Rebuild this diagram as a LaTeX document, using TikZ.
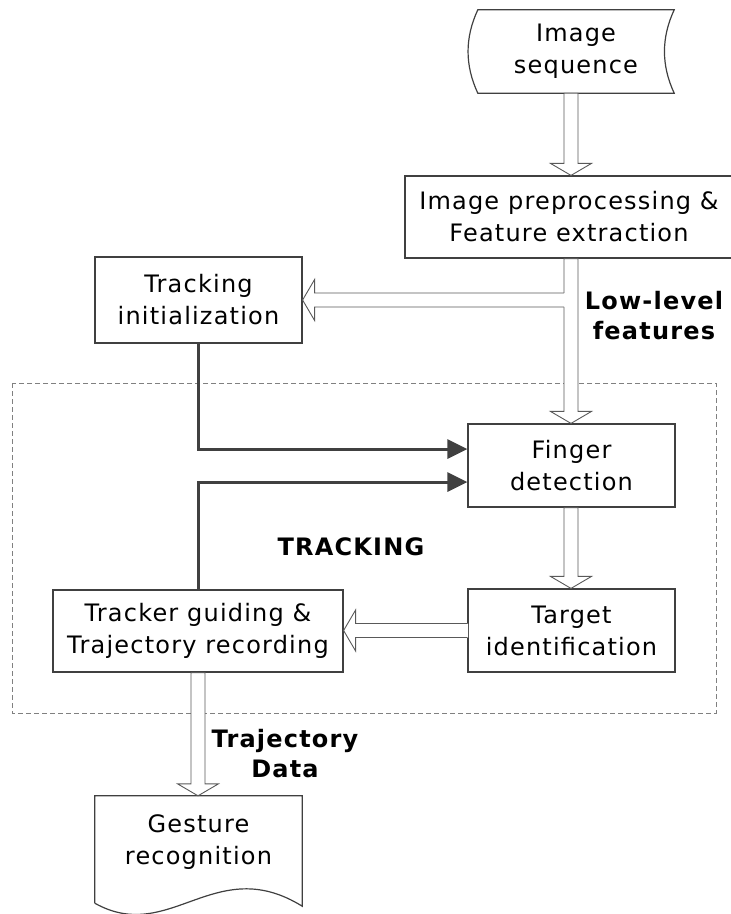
\documentclass[tikz,border=0pt]{standalone}
\usepackage{fontspec}
\setmainfont{DejaVu Sans}[LetterSpace=5]
\usetikzlibrary{arrows.meta,calc}

% hollow block arrow pointing down, from #1 to the tip #2 (same x)
\newcommand\hdown[2]{%
  \draw[hollow] let \p1=(#1), \p2=(#2) in
    (\x1-7pt,\y1) -- (\x1-7pt,\y2+12pt) -- (\x1-20.5pt,\y2+12pt) -- (\x1,\y2)
    -- (\x1+20.5pt,\y2+12pt) -- (\x1+7pt,\y2+12pt) -- (\x1+7pt,\y1) -- cycle;}
% hollow block arrow pointing left, open at its start #1, tip at #2
\newcommand\hleft[2]{%
  \fill[white] let \p1=(#1), \p2=(#2) in
    (\x1+0.8pt,\y1+7pt) -- (\x2+12pt,\y1+7pt) -- (\x2+12pt,\y1+20.5pt) -- (\x2,\y1)
    -- (\x2+12pt,\y1-20.5pt) -- (\x2+12pt,\y1-7pt) -- (\x1+0.8pt,\y1-7pt) -- cycle;
  \draw[hollow,fill=none] let \p1=(#1), \p2=(#2) in
    (\x1,\y1+7pt) -- (\x2+12pt,\y1+7pt) -- (\x2+12pt,\y1+20.5pt) -- (\x2,\y1)
    -- (\x2+12pt,\y1-20.5pt) -- (\x2+12pt,\y1-7pt) -- (\x1,\y1-7pt);}

\begin{document}
\begin{tikzpicture}[x=1pt,y=-1pt,
  every node/.style={font=\fontsize{24}{32}\selectfont, align=center, inner sep=0pt},
  box/.style={draw=black!75, line width=1.2pt},
  hollow/.style={draw=black!65, fill=white, line width=0.9pt, line join=miter},
  dark/.style={draw=black!75, line width=3pt, -{Triangle[length=20pt,width=19pt]}},
  lbl/.style={font=\fontsize{24}{30}\selectfont\bfseries},
  frame/.style={draw=black!50, line width=0.9pt, dash pattern=on 5pt off 3pt}]
\useasboundingbox (0,0) rectangle (731,914);

% tracking stage frame
\draw[frame] (12,383) rectangle (716,713);

% process boxes
\node[box, minimum width=328pt, minimum height=82pt] (pre) at (569,217)
  {Image preprocessing \&\\Feature extraction};
\node[box, minimum width=207pt, minimum height=86pt] (init) at (198.5,300)
  {Tracking\\initialization};
\node[box, minimum width=207pt, minimum height=83pt] (finger) at (571.5,465.5)
  {Finger\\detection};
\node[box, minimum width=207pt, minimum height=83pt] (target) at (571.5,630.5)
  {Target\\identification};
\node[box, minimum width=290pt, minimum height=82pt] (tracker) at (198,631)
  {Tracker guiding \&\\Trajectory recording};

% stored-data input
\node[minimum width=196pt, minimum height=83pt] (seq) at (576,51.5) {Image\\sequence};
\draw[box] (seq.north west) -- (seq.north east)
  .. controls ($(seq.north east)+(-13,28)$) and ($(seq.south east)+(-13,-28)$) .. (seq.south east)
  -- (seq.south west)
  .. controls ($(seq.south west)+(-13,-28)$) and ($(seq.north west)+(-13,28)$) .. cycle;

% document output
\node[minimum width=207pt, minimum height=92pt] (ges) at (198.5,842) {Gesture\\recognition};
\draw[box] ($(ges.south west)+(0,15)$) -- (ges.north west) -- (ges.north east)
  -- ($(ges.south east)+(0,18)$)
  .. controls ($(ges.south east)+(-87,-36)$) and ($(ges.south west)+(75,57)$) .. ($(ges.south west)+(0,15)$);

% data flow trunk
\coordinate (trunk) at (571,0);
\hdown{trunk |- seq.south}{trunk |- pre.north}
\hdown{trunk |- pre.south}{trunk |- finger.north}
\hleft{$(trunk |- init.east)+(-7,0)$}{init.east}
\hdown{trunk |- finger.south}{trunk |- target.north}
\hleft{target.west}{tracker.east |- target.west}
\hdown{tracker.south}{ges.north}

% control arrows into finger detection
\draw[dark] (init.south) |- ($(finger.west)+(0,-16.5)$);
\draw[dark] (tracker.north) |- ($(finger.west)+(0,16.5)$);

% labels
\node[lbl] (lowlevel) at (654,316) {Low-level\\features};
\node[lbl] (trk) at (351,547) {TRACKING};
\node[lbl] (trajdata) at (285,754) {Trajectory\\Data};
\end{tikzpicture}
\end{document}
